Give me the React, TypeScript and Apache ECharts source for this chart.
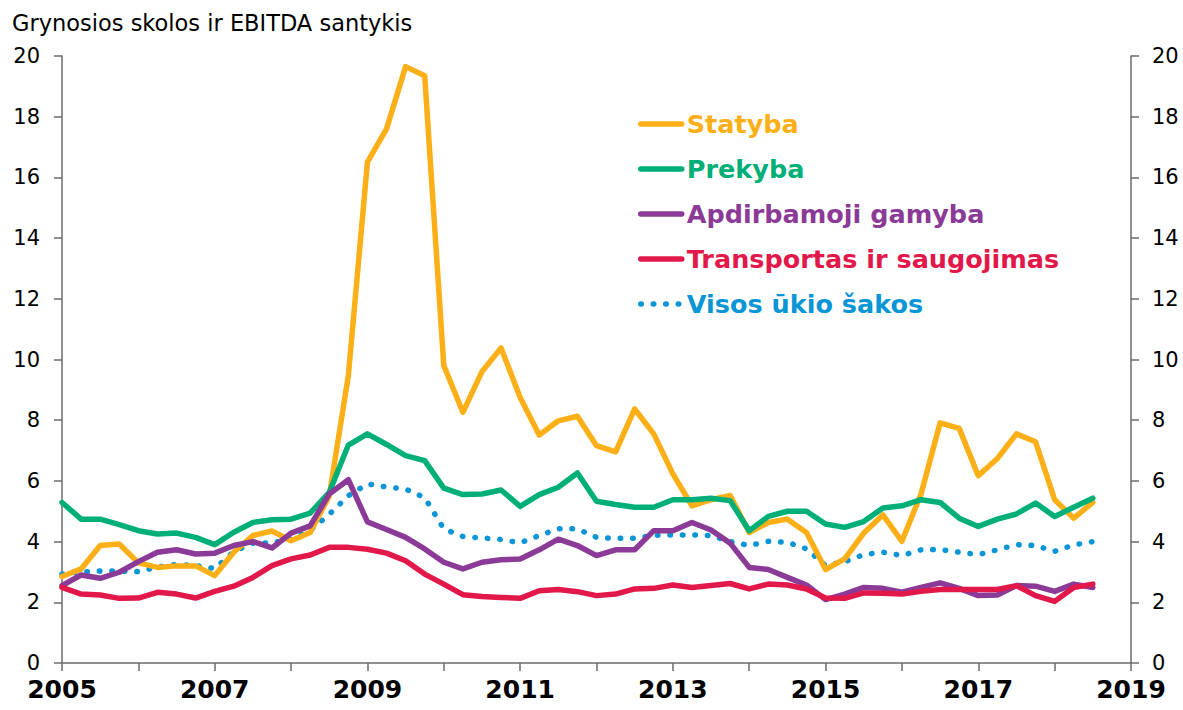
import React, { useEffect, useRef } from "react";
import * as echarts from "echarts";

const startYear = 2005;
const yearTicks = [2005, 2007, 2009, 2011, 2013, 2015, 2017, 2019];

const statyba = [2.85, 3.1, 3.87, 3.92, 3.3, 3.15, 3.2, 3.2, 2.88, 3.65, 4.2, 4.35, 4.03, 4.3, 5.5, 9.47, 16.5, 17.6, 19.65, 19.35, 9.8, 8.26, 9.6, 10.38, 8.75, 7.51, 7.98, 8.13, 7.16, 6.96, 8.37, 7.55, 6.23, 5.18, 5.38, 5.52, 4.3, 4.63, 4.74, 4.3, 3.08, 3.43, 4.28, 4.88, 4.01, 5.57, 7.91, 7.73, 6.17, 6.74, 7.55, 7.29, 5.38, 4.77, 5.29];
const prekyba = [5.29, 4.74, 4.74, 4.56, 4.36, 4.25, 4.28, 4.14, 3.9, 4.31, 4.63, 4.72, 4.74, 4.94, 5.62, 7.18, 7.55, 7.2, 6.83, 6.67, 5.76, 5.55, 5.57, 5.7, 5.16, 5.55, 5.79, 6.26, 5.33, 5.22, 5.13, 5.13, 5.38, 5.38, 5.43, 5.35, 4.36, 4.83, 5.0, 5.0, 4.58, 4.47, 4.66, 5.11, 5.18, 5.38, 5.29, 4.77, 4.5, 4.74, 4.91, 5.27, 4.83, 5.13, 5.43];
const apdirbamoji = [2.55, 2.9, 2.79, 2.99, 3.34, 3.65, 3.73, 3.59, 3.62, 3.87, 4.0, 3.79, 4.28, 4.52, 5.57, 6.04, 4.65, 4.4, 4.14, 3.76, 3.32, 3.1, 3.32, 3.4, 3.43, 3.73, 4.08, 3.87, 3.54, 3.73, 3.73, 4.36, 4.36, 4.63, 4.38, 3.95, 3.15, 3.08, 2.82, 2.57, 2.09, 2.27, 2.49, 2.46, 2.33, 2.49, 2.64, 2.46, 2.22, 2.24, 2.55, 2.53, 2.36, 2.6, 2.49];
const transportas = [2.49, 2.27, 2.24, 2.13, 2.14, 2.33, 2.27, 2.14, 2.36, 2.53, 2.82, 3.21, 3.43, 3.56, 3.81, 3.81, 3.75, 3.62, 3.37, 2.93, 2.6, 2.25, 2.19, 2.16, 2.13, 2.38, 2.42, 2.35, 2.22, 2.27, 2.44, 2.46, 2.57, 2.49, 2.55, 2.62, 2.44, 2.6, 2.57, 2.44, 2.14, 2.13, 2.31, 2.3, 2.27, 2.36, 2.42, 2.42, 2.42, 2.42, 2.55, 2.22, 2.03, 2.49, 2.6];
const visos = [2.93, 3.0, 3.03, 3.03, 3.01, 3.16, 3.25, 3.21, 3.11, 3.67, 3.95, 3.96, 4.09, 4.36, 4.9, 5.51, 5.9, 5.8, 5.73, 5.45, 4.42, 4.17, 4.12, 4.07, 3.96, 4.2, 4.42, 4.42, 4.14, 4.11, 4.11, 4.21, 4.22, 4.22, 4.2, 4.0, 3.87, 4.01, 3.98, 3.76, 3.21, 3.34, 3.57, 3.65, 3.54, 3.73, 3.74, 3.65, 3.57, 3.73, 3.9, 3.87, 3.68, 3.89, 4.0];

const seriesDefs = [
  { name: "Statyba", data: statyba, color: "#FCAF17", dotted: false },
  { name: "Prekyba", data: prekyba, color: "#00AF78", dotted: false },
  { name: "Apdirbamoji gamyba", data: apdirbamoji, color: "#8B3A97", dotted: false },
  { name: "Transportas ir saugojimas", data: transportas, color: "#E2184A", dotted: false },
  { name: "Visos ūkio šakos", data: visos, color: "#0A95D6", dotted: true },
];

const FONT = "DejaVu Sans, Verdana, sans-serif";
const AXIS_COLOR = "#6b6b6b";

export default function App() {
  const ref = useRef<HTMLDivElement>(null);
  useEffect(() => {
    if (!ref.current) return;
    const chart = echarts.init(ref.current, undefined, { renderer: "svg" });
    const series = seriesDefs.map((s) => ({
      name: s.name,
      type: "line",
      symbol: "none",
      z: s.dotted ? 1 : 2,
      data: s.data.map((v, i) => [startYear + i / 4, v]),
      lineStyle: s.dotted
        ? { color: s.color, width: 5.5, type: [0.5, 12], cap: "round" }
        : { color: s.color, width: 5.5, cap: "round", join: "round" },
      itemStyle: { color: s.color },
    }));
    chart.setOption({
      animation: false,
      backgroundColor: "#ffffff",
      title: {
        text: "Grynosios skolos ir EBITDA santykis",
        left: 7,
        top: 6,
        textStyle: { fontFamily: FONT, fontSize: 22.5, fontWeight: "normal", color: "#000" },
      },
      grid: { left: 62, right: 52, top: 56, bottom: 47, containLabel: false },
      legend: {
        orient: "vertical",
        left: 633,
        top: 106,
        itemWidth: 41,
        itemHeight: 14,
        itemGap: 19,
        itemStyle: { opacity: 0 },
        lineStyle: { width: 5.5, cap: "round" },
        data: seriesDefs.map((s) => ({
          name: s.name,
          textStyle: { color: s.color },
        })),
        textStyle: { fontFamily: FONT, fontSize: 25.5, fontWeight: "bold", lineHeight: 25 },
        selectedMode: false,
      },
      xAxis: {
        type: "value",
        min: 2005,
        max: 2019,
        interval: 1,
        splitLine: { show: false },
        axisLine: { lineStyle: { color: AXIS_COLOR, width: 1.5 } },
        axisTick: { show: true, length: 8, lineStyle: { color: AXIS_COLOR, width: 1.5 } },
        axisLabel: {
          margin: 14,
          fontFamily: FONT,
          fontSize: 25,
          fontWeight: "bold",
          color: "#000",
          formatter: (v: number) => (yearTicks.includes(v) ? String(v) : ""),
        },
      },
      yAxis: [
        {
          type: "value",
          min: 0,
          max: 20,
          interval: 2,
          position: "left",
          splitLine: { show: false },
          axisLine: { show: true, lineStyle: { color: AXIS_COLOR, width: 1.5 } },
          axisTick: { show: true, length: 8, lineStyle: { color: AXIS_COLOR, width: 1.5 } },
          axisLabel: { margin: 22, fontFamily: FONT, fontSize: 21, color: "#000" },
        },
        {
          type: "value",
          min: 0,
          max: 20,
          interval: 2,
          position: "right",
          splitLine: { show: false },
          axisLine: { show: true, lineStyle: { color: AXIS_COLOR, width: 1.5 } },
          axisTick: { show: true, length: 8, lineStyle: { color: AXIS_COLOR, width: 1.5 } },
          axisLabel: { margin: 21, fontFamily: FONT, fontSize: 21, color: "#000" },
        },
      ],
      series,
    });
    return () => chart.dispose();
  }, []);
  return <div ref={ref} style={{ width: 1183, height: 710, position: "absolute", left: 0, top: 0 }} />;
}
